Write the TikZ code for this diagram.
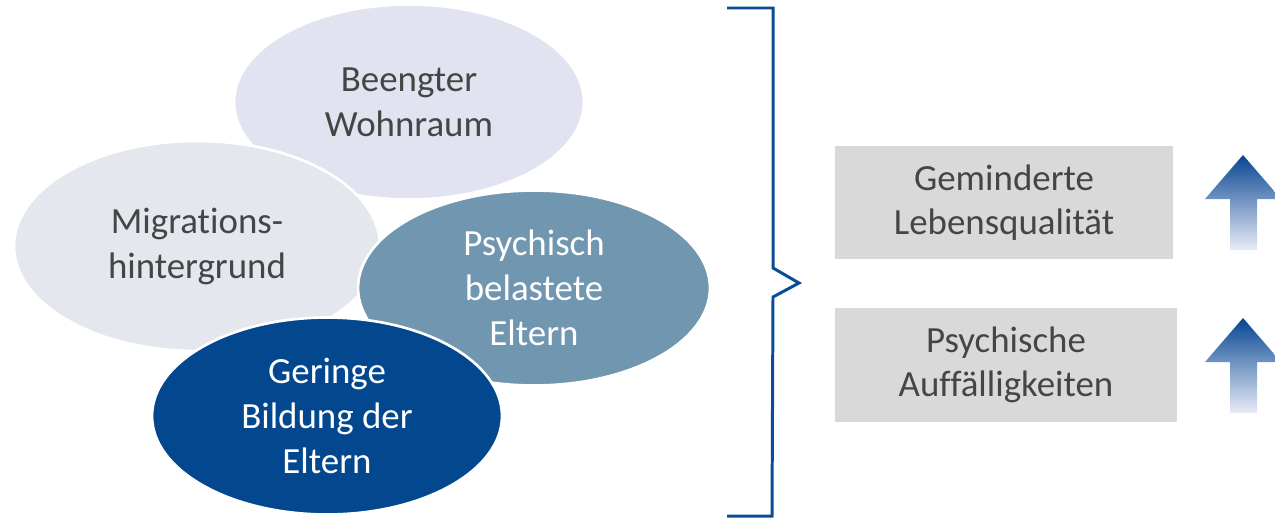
\documentclass[tikz,border=0pt]{standalone}
\usepackage{fontspec}
\setmainfont{Carlito}[Ligatures=NoCommon]
\usepackage{tikz}
\usetikzlibrary{shapes.geometric}
\definecolor{bubbleA}{HTML}{E1E3F0}
\definecolor{bubbleB}{HTML}{E4E7ED}
\definecolor{bubbleC}{HTML}{7196B0}
\definecolor{bubbleD}{HTML}{03488F}
\definecolor{bracecol}{HTML}{0B4C97}
\definecolor{boxgray}{HTML}{D9D9D9}
\definecolor{txtgray}{HTML}{454545}
\definecolor{arrowtop}{HTML}{064592}
\definecolor{arrowbot}{HTML}{E9ECF7}
\tikzset{bubble/.style={ellipse, draw=white, line width=1.5pt, align=center, inner sep=0pt, font=\fontsize{21}{25.6}\selectfont},
 resultbox/.style={rectangle, fill=boxgray, align=center, text=txtgray, inner sep=0pt, font=\fontsize{21}{25}\selectfont}}

\begin{document}
\begin{tikzpicture}[x=0.02cm,y=-0.02cm]
\useasboundingbox (0,0) rectangle (1275,518);
\clip (0,0) rectangle (1275,518);
% risk factors
\node[bubble, fill=bubbleA, text=txtgray, minimum width=7cm, minimum height=3.9cm] (wohnraum) at (409,102) {Beengter\\Wohnraum};
\node[bubble, fill=bubbleB, text=txtgray, minimum width=7.32cm, minimum height=4.2cm] (migration) at (197,246) {Migrations-\\hintergrund};
\node[bubble, fill=bubbleC, text=white, minimum width=7.04cm, minimum height=3.9cm] (belastet) at (534,288) {Psychisch\\belastete\\Eltern};
\node[bubble, fill=bubbleD, text=white, minimum width=7cm, minimum height=3.94cm] (bildung) at (327,416) {Geringe\\Bildung der\\Eltern};
% brace
\draw[bracecol, line width=1.7pt] (727,8) -- (773,8) -- (773,268) -- (799,283) -- (773,297) -- (772,516) -- (727,516);
% outcomes
\node[resultbox, minimum width=6.76cm, minimum height=2.26cm] (lebensq) at (1004,202.5) {Geminderte\\Lebensqualit\"at};
\node[resultbox, minimum width=6.84cm, minimum height=2.28cm] (auffaellig) at (1006,365) {Psychische\\Auff\"alligkeiten};
\foreach \t in {155,318}
 \shade[top color=arrowtop, bottom color=arrowbot] (1243,\t) -- (1281,\t+44) -- (1257,\t+44) -- (1257,\t+95) -- (1230,\t+95) -- (1230,\t+44) -- (1205,\t+44) -- cycle;
\end{tikzpicture}
\end{document}
